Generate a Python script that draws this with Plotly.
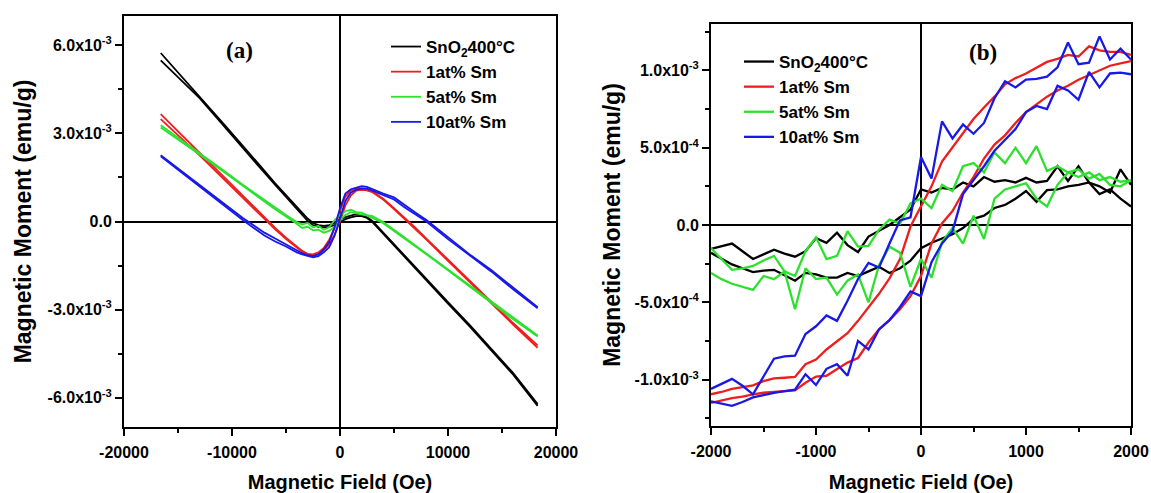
import plotly.graph_objects as go

# ---------------- data ----------------
names = ["SnO<sub>2</sub>400°C", "1at% Sm", "5at% Sm", "10at% Sm"]
colors = ["#000000", "#ec1e1e", "#2ee02e", "#1818e8"]

# panel (a): field (Oe) and moment (units of 1e-3 emu/g), two loop branches each
H_a = [-16600, -15000, -13000, -11000, -9000, -7000, -6000, -5000, -4000, -3500,
       -3000, -2500, -2000, -1500, -1000, -500, 0, 500, 1000, 1500,
       2000, 2500, 3000, 3500, 4000, 5000, 6000, 7000, 8000, 10000,
       12000, 14000, 16000, 18300]

sno2_a_1 = [5.74, 5.08, 4.27, 3.42, 2.58, 1.72, 1.30, 0.90, 0.50, 0.30,
            0.10, -0.05, -0.12, -0.15, -0.12, -0.05, 0.08, 0.15, 0.20, 0.25,
            0.22, 0.15, 0.02, -0.18, -0.38, -0.78, -1.17, -1.57, -1.97, -2.75,
            -3.52, -4.32, -5.15, -6.22]
sno2_a_2 = [5.49, 4.93, 4.20, 3.36, 2.50, 1.66, 1.25, 0.85, 0.45, 0.22,
            0.02, -0.12, -0.18, -0.20, -0.18, -0.12, -0.03, 0.08, 0.14, 0.18,
            0.18, 0.12, -0.02, -0.22, -0.42, -0.82, -1.22, -1.62, -2.02, -2.80,
            -3.57, -4.38, -5.20, -6.28]
sm1_a_1 = [3.66, 3.07, 2.33, 1.60, 0.87, 0.13, -0.22, -0.55, -0.85, -1.00,
           -1.10, -1.12, -1.05, -0.90, -0.62, -0.22, 0.35, 0.85, 1.05, 1.12,
           1.12, 1.08, 1.02, 0.90, 0.78, 0.45, 0.12, -0.22, -0.58, -1.30,
           -2.02, -2.75, -3.45, -4.22]
sm1_a_2 = [3.49, 2.95, 2.25, 1.53, 0.80, 0.07, -0.27, -0.60, -0.90, -1.03,
           -1.13, -1.15, -1.10, -0.98, -0.78, -0.45, 0.00, 0.55, 0.88, 1.05,
           1.08, 1.06, 1.00, 0.88, 0.75, 0.42, 0.08, -0.26, -0.62, -1.34,
           -2.06, -2.79, -3.50, -4.30]
sm5_a_1 = [3.28, 2.86, 2.33, 1.80, 1.25, 0.73, 0.46, 0.22, -0.02, -0.10,
           -0.05, -0.20, -0.15, -0.28, -0.20, 0.05, 0.22, 0.35, 0.40, 0.32,
           0.30, 0.22, 0.18, 0.08, -0.02, -0.28, -0.55, -0.82, -1.08, -1.62,
           -2.17, -2.72, -3.27, -3.88]
sm5_a_2 = [3.20, 2.80, 2.28, 1.75, 1.20, 0.68, 0.42, 0.18, -0.08, -0.22,
           -0.18, -0.30, -0.28, -0.38, -0.32, -0.18, 0.05, 0.22, 0.32, 0.28,
           0.25, 0.20, 0.12, 0.04, -0.06, -0.32, -0.58, -0.85, -1.12, -1.66,
           -2.21, -2.76, -3.32, -3.92]
sm10_a_1 = [2.26, 1.80, 1.24, 0.68, 0.12, -0.38, -0.58, -0.78, -0.98, -1.08,
            -1.15, -1.18, -1.12, -0.95, -0.70, -0.20, 0.45, 0.95, 1.10, 1.15,
            1.20, 1.18, 1.10, 1.02, 0.95, 0.82, 0.55, 0.30, 0.05, -0.55,
            -1.12, -1.65, -2.25, -2.92]
sm10_a_2 = [2.22, 1.76, 1.20, 0.64, 0.05, -0.48, -0.68, -0.85, -1.05, -1.12,
            -1.18, -1.22, -1.18, -1.05, -0.88, -0.48, 0.10, 0.70, 0.98, 1.08,
            1.12, 1.12, 1.05, 0.98, 0.90, 0.75, 0.48, 0.24, 0.00, -0.60,
            -1.16, -1.70, -2.30, -2.96]

# panel (b): low-field region, moment in units of 1e-4 emu/g
H_b = [-2000, -1900, -1800, -1700, -1600, -1500, -1400, -1300, -1200, -1100,
       -1000, -900, -800, -700, -600, -500, -400, -300, -200, -100,
       0, 100, 200, 300, 400, 500, 600, 700, 800, 900,
       1000, 1100, 1200, 1300, 1400, 1500, 1600, 1700, 1800, 1900, 2000]

sno2_b_1 = [-1.55, -1.35, -1.20, -1.70, -2.20, -1.90, -1.60, -1.85, -2.05, -1.70,
            -0.85, -1.15, -0.50, -1.30, -1.75, -0.75, -0.40, 0.00, 0.50, 1.00,
            2.30, 2.10, 2.40, 2.30, 2.75, 2.50, 3.10, 2.80, 2.90, 2.75,
            3.05, 2.75, 2.85, 3.80, 2.85, 3.80, 2.75, 2.50, 2.10, 3.60, 2.60]
sno2_b_2 = [-1.80, -2.20, -2.55, -2.80, -3.05, -2.95, -2.90, -3.25, -3.60, -3.10,
            -3.20, -3.40, -3.40, -3.10, -3.30, -3.00, -2.70, -3.10, -2.80, -2.30,
            -1.50, -1.15, -0.90, -0.60, -0.20, 0.40, 0.60, 1.10, 1.30, 1.70,
            2.20, 1.50, 2.25, 2.30, 2.50, 2.60, 2.75, 2.00, 2.30, 1.70, 1.20]
sm1_b_1 = [-10.95, -10.80, -10.60, -10.50, -10.37, -10.10, -9.92, -9.88, -9.83, -9.00,
           -8.70, -8.05, -7.55, -7.00, -6.20, -5.35, -4.45, -3.45, -2.20, -0.10,
           1.23, 2.50, 4.10, 5.00, 5.90, 6.85, 7.60, 8.30, 9.10, 9.50,
           9.80, 10.20, 10.55, 10.75, 11.00, 10.90, 11.55, 11.30, 11.20, 11.20, 11.00]
sm1_b_2 = [-11.50, -11.35, -11.20, -11.10, -10.95, -10.85, -10.80, -10.75, -10.70, -10.20,
           -9.80, -9.75, -9.35, -8.90, -8.60, -7.60, -6.75, -6.15, -5.45, -4.60,
           -3.30, -1.20, 0.10, 0.90, 2.10, 3.10, 4.30, 5.20, 5.80, 6.60,
           7.30, 7.80, 8.30, 8.70, 9.00, 9.40, 9.70, 10.00, 10.30, 10.45, 10.60]
sm5_b_1 = [-1.50, -2.20, -2.90, -2.80, -2.65, -2.30, -2.00, -3.00, -3.30, -1.70,
           -0.80, -2.20, -2.00, -0.40, -1.40, -1.35, -0.30, 0.35, 0.10, 1.40,
           1.70, 1.10, 2.60, 2.20, 3.80, 4.00, 3.40, 4.70, 4.00, 5.00,
           4.00, 5.10, 3.50, 3.80, 3.40, 3.60, 3.00, 3.30, 2.60, 2.50, 2.90]
sm5_b_2 = [-3.10, -3.50, -3.80, -4.00, -4.20, -3.30, -3.50, -3.00, -5.45, -2.80,
           -3.50, -3.40, -4.50, -3.60, -3.20, -5.00, -2.60, -1.40, -1.80, -4.00,
           -2.20, -3.40, -1.10, -0.20, -1.20, 0.60, -0.90, 1.70, 2.30, 2.50,
           2.70, 1.70, 1.20, 2.60, 3.40, 3.10, 3.40, 2.90, 3.10, 2.80, 2.90]
sm10_b_1 = [-10.60, -10.30, -9.95, -10.40, -10.95, -9.80, -8.65, -8.50, -8.45, -7.05,
            -6.55, -5.85, -6.20, -4.90, -3.50, -2.45, -2.75, -1.20, 0.30, 0.50,
            4.40, 3.00, 6.70, 5.60, 6.50, 5.90, 6.60, 8.20, 9.30, 8.90,
            9.40, 9.45, 9.60, 10.20, 11.80, 10.40, 10.50, 12.20, 10.70, 11.40, 10.70]
sm10_b_2 = [-11.40, -11.55, -11.70, -11.45, -11.15, -11.00, -10.85, -10.75, -10.65, -9.65,
            -10.35, -9.30, -9.00, -9.75, -7.50, -8.05, -6.75, -6.15, -5.30, -4.30,
            -4.60, -2.40, -1.20, -0.40, 2.00, 2.90, 3.80, 4.80, 5.50, 6.20,
            7.30, 7.70, 7.50, 9.00, 8.70, 8.10, 9.90, 8.90, 9.80, 9.85, 9.75]

loops_a = [(sno2_a_1, sno2_a_2), (sm1_a_1, sm1_a_2), (sm5_a_1, sm5_a_2), (sm10_a_1, sm10_a_2)]
loops_b = [(sno2_b_1, sno2_b_2), (sm1_b_1, sm1_b_2), (sm5_b_1, sm5_b_2), (sm10_b_1, sm10_b_2)]

# tick labels
xa_vals = [-20000, -10000, 0, 10000, 20000]
xa_text = ["-20000", "-10000", "0", "10000", "20000"]
xb_vals = [-2000, -1000, 0, 1000, 2000]
xb_text = ["-2000", "-1000", "0", "1000", "2000"]
ya_vals = [-6e-3, -3e-3, 0, 3e-3, 6e-3]
ya_text = ["-6.0x10<sup>-3</sup>", "-3.0x10<sup>-3</sup>", "0.0", "3.0x10<sup>-3</sup>", "6.0x10<sup>-3</sup>"]
yb_vals = [-1e-3, -5e-4, 0, 5e-4, 1e-3]
yb_text = ["-1.0x10<sup>-3</sup>", "-5.0x10<sup>-4</sup>", "0.0", "5.0x10<sup>-4</sup>", "1.0x10<sup>-3</sup>"]

def bold(labels):
    return ["<b>" + t + "</b>" for t in labels]

# ---------------- figure ----------------
FONT = "Liberation Sans"
fig = go.Figure()

for name, col, (b1, b2) in zip(names, colors, loops_a):
    fig.add_trace(go.Scatter(
        x=H_a + [None] + H_a,
        y=[v * 1e-3 for v in b1] + [None] + [v * 1e-3 for v in b2],
        mode="lines", name=name, line=dict(color=col, width=1.8),
        xaxis="x", yaxis="y", legend="legend", connectgaps=False))

for name, col, (b1, b2) in zip(names, colors, loops_b):
    fig.add_trace(go.Scatter(
        x=H_b + [None] + H_b,
        y=[v * 1e-4 for v in b1] + [None] + [v * 1e-4 for v in b2],
        mode="lines", name=name, line=dict(color=col, width=2.3),
        xaxis="x2", yaxis="y2", legend="legend2", connectgaps=False))

tick_font = dict(family=FONT, size=16, color="black")
axis_common = dict(showline=True, linecolor="black", linewidth=2, mirror=True,
                   ticks="outside", ticklen=7, tickwidth=2, tickcolor="black",
                   showgrid=False, zeroline=True, zerolinecolor="black", zerolinewidth=2,
                   tickfont=tick_font, tickmode="array", automargin=False)
title_x_font = dict(family=FONT, size=20, color="black", weight="bold")
title_y_font = dict(family=FONT, size=23, color="black", weight="bold")

fig.update_layout(
    width=1151, height=493, template="none",
    paper_bgcolor="white", plot_bgcolor="white",
    margin=dict(l=0, r=0, t=0, b=0),
    font=dict(family=FONT, size=16, color="black"),
    xaxis=dict(domain=[124 / 1151, 556 / 1151], anchor="y", range=[-20000, 20000],
               tickvals=xa_vals, ticktext=bold(xa_text), ticklabelstandoff=3,
               minor=dict(dtick=5000, tick0=0, ticks="outside", ticklen=4, tickwidth=2, tickcolor="black"),
               title=dict(text="Magnetic Field (Oe)", standoff=18, font=title_x_font),
               **axis_common),
    yaxis=dict(domain=[66 / 493, 477 / 493], anchor="x", range=[-7.0e-3, 7.0e-3],
               tickvals=ya_vals, ticktext=bold(ya_text),
               minor=dict(dtick=1.5e-3, tick0=0, ticks="outside", ticklen=4, tickwidth=2, tickcolor="black"),
               title=dict(text="Magnetic Moment (emu/g)", standoff=10, font=title_y_font),
               **axis_common),
    xaxis2=dict(domain=[711 / 1151, 1131 / 1151], anchor="y2", range=[-2000, 2000],
                tickvals=xb_vals, ticktext=bold(xb_text), ticklabelstandoff=3,
                minor=dict(dtick=500, tick0=0, ticks="outside", ticklen=4, tickwidth=2, tickcolor="black"),
                title=dict(text="Magnetic Field (Oe)", standoff=18, font=title_x_font),
                **axis_common),
    yaxis2=dict(domain=[67 / 493, 469 / 493], anchor="x2", range=[-1.3e-3, 1.3e-3],
                tickvals=yb_vals, ticktext=bold(yb_text),
                minor=dict(dtick=2.5e-4, tick0=0, ticks="outside", ticklen=4, tickwidth=2, tickcolor="black"),
                title=dict(text="Magnetic Moment (emu/g)", standoff=8, font=title_y_font),
                **axis_common),
    legend=dict(x=386 / 1151, y=(493 - 29) / 493, xanchor="left", yanchor="top",
                bgcolor="rgba(0,0,0,0)", borderwidth=0, tracegroupgap=0,
                font=dict(family=FONT, size=17, color="black", weight="bold")),
    legend2=dict(x=739 / 1151, y=(493 - 44) / 493, xanchor="left", yanchor="top",
                 bgcolor="rgba(0,0,0,0)", borderwidth=0, tracegroupgap=0,
                 font=dict(family=FONT, size=17, color="black", weight="bold")),
    annotations=[
        dict(text="(a)", x=239 / 1151, y=(493 - 51) / 493, xref="paper", yref="paper",
             showarrow=False, xanchor="center", yanchor="middle",
             font=dict(family="Liberation Serif", size=23, color="black", weight="bold")),
        dict(text="(b)", x=983 / 1151, y=(493 - 52) / 493, xref="paper", yref="paper",
             showarrow=False, xanchor="center", yanchor="middle",
             font=dict(family="Liberation Serif", size=23, color="black", weight="bold")),
    ],
    showlegend=True,
)

fig.write_html("out.html", config={"displayModeBar": False},
               post_script="document.body.style.margin='0';")
